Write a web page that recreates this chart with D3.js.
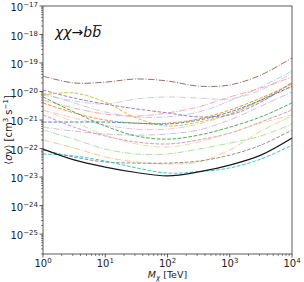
<!DOCTYPE html>
<html>
<head>
<meta charset="utf-8">
<script src="https://cdn.jsdelivr.net/npm/d3@7"></script>
<style>
  body { margin: 0; background: #fff; }
  svg { display: block; font-family: "DejaVu Sans", sans-serif; }
</style>
</head>
<body>
<svg id="chart"></svg>
<script>
var masses = [1, 3.162, 10, 31.62, 100, 316.2, 1000, 3162, 10000];

// log10 of <sigma v> read at each mass
var brown       = [-19.46, -19.70, -19.67, -19.56, -19.63, -19.81, -19.77, -19.42, -18.82];
var lightGray   = [-20.12, -20.33, -20.44, -20.26, -20.19, -20.23, -20.26, -19.95, -19.35];
var lightBlue   = [-20.05, -20.40, -20.72, -20.89, -20.89, -20.72, -20.33, -19.84, -19.28];
var purple      = [-19.95, -20.23, -20.44, -20.61, -20.75, -20.89, -20.82, -20.37, -19.67];
var olive       = [-20.12, -20.05, -20.37, -20.93, -21.21, -21.07, -20.79, -20.30, -19.70];
var green       = [-20.19, -20.72, -21.21, -21.56, -21.67, -21.53, -21.25, -20.89, -20.40];
var lightRed    = [-20.30, -20.58, -20.79, -20.86, -20.75, -20.54, -20.19, -19.88, -19.49];
var orange      = [-20.40, -20.75, -21.00, -21.11, -21.11, -20.96, -20.65, -20.23, -19.74];
var blue        = [-21.07, -21.07, -21.07, -21.11, -21.14, -21.00, -20.72, -20.30, -19.81];
var lightPink   = [-20.65, -20.93, -21.18, -21.32, -21.32, -21.14, -20.79, -20.33, -19.84];
var pink        = [-20.82, -21.25, -21.56, -21.77, -21.84, -21.70, -21.46, -21.07, -20.65];
var lavender    = [-21.25, -21.39, -21.49, -21.53, -21.49, -21.35, -21.00, -20.51, -20.02];
var lightGreen  = [-21.35, -21.67, -22.02, -22.19, -22.19, -22.02, -21.81, -21.56, -21.14];
var lightOlive  = [-20.65, -21.07, -21.53, -21.84, -21.95, -21.77, -21.46, -21.11, -20.82];
var lightOrange = [-21.70, -21.98, -22.30, -22.47, -22.54, -22.47, -22.05, -21.39, -20.86];
var gray        = [-22.05, -22.30, -22.47, -22.51, -22.51, -22.44, -22.23, -21.88, -21.35];
var cyan        = [-22.19, -22.26, -22.44, -22.68, -22.86, -22.81, -22.68, -22.37, -21.88];
var combined    = [-22.02, -22.40, -22.65, -22.84, -22.96, -22.82, -22.58, -22.23, -21.63];

var xTicks = [1, 10, 100, 1000, 10000];
var xTickExp = ["0", "1", "2", "3", "4"];
var yTicks = [1e-17, 1e-18, 1e-19, 1e-20, 1e-21, 1e-22, 1e-23, 1e-24, 1e-25];
var yTickExp = ["\u221217", "\u221218", "\u221219", "\u221220", "\u221221", "\u221222", "\u221223", "\u221224", "\u221225"];

var series = [
  { v: brown,       c: "#8c564b", d: "dashdot" },
  { v: lightGray,   c: "#c7c7c7", d: "dashdot" },
  { v: lightBlue,   c: "#aec7e8", d: "dashdot" },
  { v: lightRed,    c: "#ff9896", d: "dashdot" },
  { v: lightPink,   c: "#f7b6d2", d: "dashdot" },
  { v: purple,      c: "#9467bd", d: "dash" },
  { v: olive,       c: "#bcbd22", d: "dash" },
  { v: orange,      c: "#ff7f0e", d: "dash" },
  { v: blue,        c: "#1f77b4", d: "dash" },
  { v: lavender,    c: "#c5b0d5", d: "dashdot" },
  { v: green,       c: "#2ca02c", d: "dash" },
  { v: pink,        c: "#e377c2", d: "dash" },
  { v: lightOlive,  c: "#dbdb8d", d: "dashdot" },
  { v: lightGreen,  c: "#98df8a", d: "dashdot" },
  { v: lightOrange, c: "#ffbb78", d: "dashdot" },
  { v: gray,        c: "#7f7f7f", d: "dash" },
  { v: cyan,        c: "#17becf", d: "dash" },
  { v: combined,    c: "#000000", d: "solid" }
];

var width = 304;
var height = 282;
var PL = 43, PR = 292, PT = 6, PB = 254;

var svg = d3.select('#chart').attr('width', width).attr('height', height);

var x = d3.scaleLog().domain([1, 1e4]).range([PL, PR]);
var y = d3.scaleLog().domain([2e-26, 1e-17]).range([PB, PT]);

var dashes = { dash: "3.7,1.6", dashdot: "6.4,1.6,1,1.6", solid: null };

var line = d3.line()
  .x(function(d){ return x(d[0]); })
  .y(function(d){ return y(d[1]); })
  .curve(d3.curveCatmullRom.alpha(0.5));

svg.append('clipPath').attr('id', 'clip')
  .append('rect').attr('x', PL).attr('y', PT).attr('width', PR - PL).attr('height', PB - PT);

svg.append('g').attr('clip-path', 'url(#clip)')
  .selectAll('path')
  .data(series)
  .enter()
  .append('path')
  .attr('fill', 'none')
  .attr('stroke', function(d){ return d.c; })
  .attr('stroke-width', function(d){ return d.d == "solid" ? 1.2 : 1.0; })
  .attr('stroke-opacity', function(d){ return d.d == "solid" ? 0.9 : 0.85; })
  .attr('stroke-dasharray', function(d){ return dashes[d.d]; })
  .attr('d', function(d){
    return line(masses.map(function(m, i){ return [m, Math.pow(10, d.v[i])]; }));
  });

// minor ticks
var xMinor = [];
for (var e = 0; e < 4; e++) for (var k = 2; k < 10; k++) xMinor.push(k * Math.pow(10, e));
var yMinor = [];
for (var e2 = -26; e2 < -17; e2++) for (var k2 = 2; k2 < 10; k2++) {
  var v = k2 * Math.pow(10, e2);
  if (v >= 2e-26 && v <= 1e-17) yMinor.push(v);
}

var axisColor = "#333";
var ticks = svg.append('g').attr('stroke', axisColor).attr('stroke-width', 0.6);

ticks.selectAll('.xm').data(xMinor).enter().append('line')
  .attr('x1', function(d){ return x(d); }).attr('x2', function(d){ return x(d); })
  .attr('y1', PB).attr('y2', PB + 2);
ticks.selectAll('.xM').data(xTicks).enter().append('line')
  .attr('x1', function(d){ return x(d); }).attr('x2', function(d){ return x(d); })
  .attr('y1', PB).attr('y2', PB + 3.5).attr('stroke-width', 0.8);
ticks.selectAll('.ym').data(yMinor).enter().append('line')
  .attr('y1', function(d){ return y(d); }).attr('y2', function(d){ return y(d); })
  .attr('x1', PL).attr('x2', PL - 2);
ticks.selectAll('.yM').data(yTicks).enter().append('line')
  .attr('y1', function(d){ return y(d); }).attr('y2', function(d){ return y(d); })
  .attr('x1', PL).attr('x2', PL - 3.5).attr('stroke-width', 0.8);

// frame
svg.append('rect')
  .attr('x', PL).attr('y', PT).attr('width', PR - PL).attr('height', PB - PT)
  .attr('fill', 'none').attr('stroke', axisColor).attr('stroke-width', 0.8);

// tick labels
var xl = svg.selectAll('.xl').data(xTicks).enter().append('text')
  .attr('x', function(d){ return x(d); }).attr('y', PB + 13)
  .attr('text-anchor', 'middle').attr('font-size', 10).attr('fill', '#222');
xl.append('tspan').text('10');
xl.append('tspan').attr('dy', -4).attr('font-size', 7).text(function(d, i){ return xTickExp[i]; });

var yl = svg.selectAll('.yl').data(yTicks).enter().append('text')
  .attr('x', PL - 5).attr('y', function(d){ return y(d) + 5; })
  .attr('text-anchor', 'end').attr('font-size', 10).attr('fill', '#222');
yl.append('tspan').text('10');
yl.append('tspan').attr('dy', -4).attr('font-size', 7).text(function(d, i){ return yTickExp[i]; });

// axis labels
var xt = svg.append('text').attr('x', (PL + PR) / 2).attr('y', 278)
  .attr('text-anchor', 'middle').attr('font-size', 9.5).attr('fill', '#222');
xt.append('tspan').attr('font-style', 'italic').text('M');
xt.append('tspan').attr('font-style', 'italic').attr('font-size', 7).attr('dy', 1.5).text('\u03c7');
xt.append('tspan').attr('dy', -1.5).text(' [TeV]');

var yt = svg.append('text')
  .attr('transform', 'translate(12,' + ((PT + PB) / 2) + ') rotate(-90)')
  .attr('text-anchor', 'middle').attr('font-size', 10).attr('fill', '#222');
yt.append('tspan').text('\u27e8');
yt.append('tspan').attr('font-style', 'italic').text('\u03c3v');
yt.append('tspan').text('\u27e9 [cm');
yt.append('tspan').attr('font-size', 7).attr('dy', -4).text('3');
yt.append('tspan').attr('dy', 4).text(' s');
yt.append('tspan').attr('font-size', 7).attr('dy', -4).text('\u22121');
yt.append('tspan').attr('dy', 4).text(']');

// process label
var title = svg.append('text').attr('x', 55).attr('y', 37)
  .attr('font-size', 14).attr('fill', '#111');
title.append('tspan').attr('font-style', 'italic').text('\u03c7\u03c7');
title.append('tspan').text('\u2192');
title.append('tspan').attr('font-style', 'italic').text('b');
title.append('tspan').attr('font-style', 'italic').text('b');

var node = title.node();
var n = node.getNumberOfChars();
var ext = node.getExtentOfChar(n - 1);
svg.append('line')
  .attr('x1', ext.x + 1).attr('x2', ext.x + ext.width + 0.5)
  .attr('y1', ext.y + 1.5).attr('y2', ext.y + 1.5)
  .attr('stroke', '#111').attr('stroke-width', 0.9);
</script>
</body>
</html>
